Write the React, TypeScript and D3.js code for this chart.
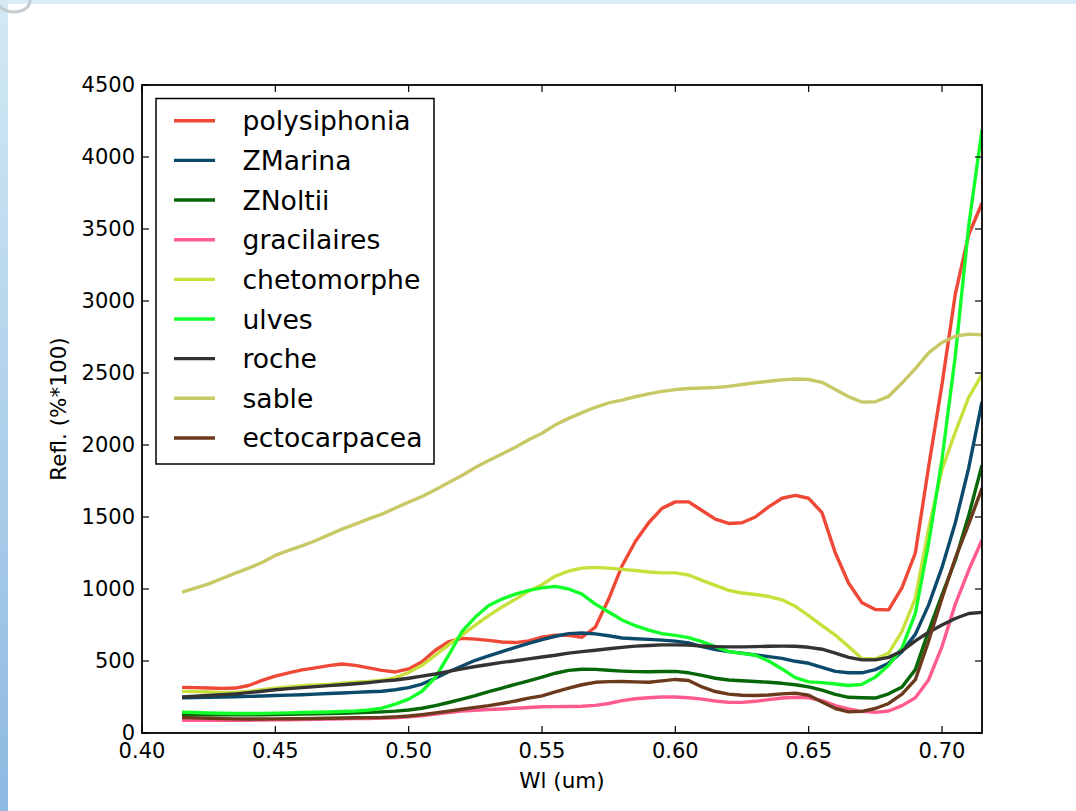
import React from "react";
import * as d3 from "d3";

// wavelength samples (um)
const wavelengths = [
  0.415, 0.42, 0.425, 0.43, 0.435, 0.44, 0.445, 0.45, 0.455, 0.46,
  0.465, 0.47, 0.475, 0.48, 0.485, 0.49, 0.495, 0.5, 0.505, 0.51,
  0.515, 0.52, 0.525, 0.53, 0.535, 0.54, 0.545, 0.55, 0.555, 0.56,
  0.565, 0.57, 0.575, 0.58, 0.585, 0.59, 0.595, 0.6, 0.605, 0.61,
  0.615, 0.62, 0.625, 0.63, 0.635, 0.64, 0.645, 0.65, 0.655, 0.66,
  0.665, 0.67, 0.675, 0.68, 0.685, 0.69, 0.695, 0.7, 0.705, 0.71, 0.715,
];

// reflectance (%*100)
const polysiphonia = [
  317, 315, 313, 310, 312, 330, 365, 395, 418, 438,
  452, 468, 479, 470, 452, 435, 424, 445, 495, 575,
  635, 657, 652, 643, 632, 628, 640, 665, 680, 678,
  665, 735, 930, 1160, 1330, 1460, 1560, 1605, 1605, 1545,
  1485, 1455, 1460, 1500, 1570, 1630, 1650, 1630, 1530, 1250,
  1040, 905, 858, 855, 1010, 1250, 1850, 2420, 3050, 3460, 3680,
];
const zMarina = [
  245, 246, 248, 250, 252, 254, 257, 260, 263, 266,
  270, 274, 278, 282, 286, 290, 300, 315, 340, 380,
  425, 465, 505, 535, 565, 595, 622, 648, 672, 690,
  694, 688, 675, 660, 655, 650, 645, 638, 625, 600,
  580, 565, 555, 542, 530, 518, 498, 484, 455, 428,
  418, 418, 440, 485, 565, 685, 890, 1150, 1460, 1840, 2300,
];
const zNoltii = [
  128, 127, 126, 126, 126, 126, 127, 128, 129, 131,
  133, 135, 137, 140, 143, 147, 152, 160, 172, 190,
  212, 235, 260, 288, 312, 338, 362, 388, 415, 435,
  443, 442, 436, 430, 426, 425, 427, 428, 418, 400,
  380, 368, 363, 358, 352, 345, 335, 320, 298, 268,
  248, 245, 243, 272, 320, 440, 710, 960, 1200, 1510, 1860,
];
const gracilaires = [
  88, 88, 88, 88, 88, 89, 90, 91, 92, 94,
  95, 97, 98, 100, 101, 103, 106, 112, 120, 132,
  142, 152, 158, 163, 167, 172, 177, 182, 183, 184,
  186, 192, 205, 225, 238, 245, 250, 250, 245, 235,
  222, 213, 213, 220, 232, 243, 248, 245, 225, 190,
  168, 150, 143, 153, 190, 245, 370, 600, 895, 1130, 1340,
];
const chetomorphe = [
  289, 288, 285, 282, 282, 289, 300, 312, 320, 328,
  333, 338, 345, 352, 358, 366, 385, 420, 470, 540,
  612, 680, 750, 815, 875, 928, 985, 1030, 1090, 1125,
  1145, 1150, 1145, 1136, 1128, 1118, 1112, 1112, 1097, 1060,
  1025, 990, 972, 962, 948, 925, 880, 815, 745, 680,
  600, 518, 514, 555, 705, 935, 1420, 1830, 2090, 2330, 2490,
];
const ulves = [
  145, 142, 139, 137, 135, 135, 136, 138, 140, 142,
  144, 146, 149, 153, 160, 172, 200, 235, 290, 385,
  540, 705, 805, 885, 930, 965, 990, 1008, 1018, 1000,
  965, 895, 840, 785, 745, 715, 690, 678, 662, 635,
  600, 565, 553, 540, 500, 445, 385, 355, 350, 340,
  330, 338, 388, 470, 590, 830, 1320, 1900, 2620, 3520, 4190,
];
const roche = [
  250, 255, 260, 266, 272, 280, 290, 300, 308, 315,
  322, 329, 335, 342, 350, 360, 368, 380, 395, 410,
  428, 445, 462, 476, 490, 502, 515, 528, 540, 555,
  565, 575, 585, 595, 603, 608, 612, 612, 610, 604,
  600, 598, 598, 600, 602, 603, 602, 595, 582, 555,
  525, 508, 508, 525, 570, 640, 700, 750, 795, 830, 838,
];
const sable = [
  979, 1006, 1036, 1073, 1110, 1145, 1184, 1233, 1268, 1300,
  1335, 1376, 1416, 1451, 1487, 1520, 1562, 1603, 1642, 1689,
  1740, 1788, 1844, 1892, 1937, 1985, 2036, 2082, 2140, 2185,
  2225, 2262, 2292, 2312, 2335, 2355, 2372, 2385, 2392, 2396,
  2399, 2407, 2420, 2432, 2443, 2452, 2458, 2455, 2435, 2385,
  2335, 2298, 2300, 2338, 2430, 2530, 2640, 2712, 2755, 2770, 2765,
];
const ectocarpacea = [
  108, 105, 102, 100, 98, 97, 97, 98, 99, 100,
  101, 102, 104, 106, 107, 108, 112, 118, 128, 140,
  152, 165, 178, 190, 205, 222, 242, 258, 285, 312,
  335, 352, 357, 358, 355, 352, 362, 372, 365, 320,
  288, 270, 262, 260, 264, 272, 277, 262, 215, 170,
  147, 150, 170, 205, 270, 370, 640, 935, 1215, 1450, 1700,
];

const seriesNames = [
  "polysiphonia", "ZMarina", "ZNoltii", "gracilaires", "chetomorphe",
  "ulves", "roche", "sable", "ectocarpacea",
];
const seriesValues = [
  polysiphonia, zMarina, zNoltii, gracilaires, chetomorphe,
  ulves, roche, sable, ectocarpacea,
];
const seriesColors = [
  "#ef4836", "#0b4a6a", "#076607", "#ff5c8d", "#c9df3c",
  "#12ff2a", "#333333", "#c9c867", "#6b3a1c",
];

const xTicks = [0.4, 0.45, 0.5, 0.55, 0.6, 0.65, 0.7];
const yTicks = [0, 500, 1000, 1500, 2000, 2500, 3000, 3500, 4000, 4500];

const FONT = "DejaVu Sans, sans-serif";

export default function App() {
  const width = 1076;
  const height = 811;
  const marginLeft = 142;
  const marginRight = 94;
  const marginTop = 85;
  const marginBottom = 78;
  const plotW = width - marginLeft - marginRight;
  const plotH = height - marginTop - marginBottom;
  const tickLen = 7;

  const x = d3.scaleLinear().domain([0.4, 0.715]).range([marginLeft, width - marginRight]);
  const y = d3.scaleLinear().domain([0, 4500]).range([height - marginBottom, marginTop]);

  const line = d3
    .line<number>()
    .x((_, i) => x(wavelengths[i]))
    .y((d) => y(d));

  // legend layout
  const legX = 156;
  const legY = 98.5;
  const legW = 278;
  const legH = 365.5;
  const rowH = 39.66;

  return (
    <svg
      width={width}
      height={height}
      style={{ position: "absolute", left: 0, top: 0 }}
      fontFamily={FONT}
    >
      <defs>
        <linearGradient id="sideGrad" x1="0" y1="0" x2="0" y2="1">
          <stop offset="0" stopColor="#d3eaf4" />
          <stop offset="1" stopColor="#8eb9e1" />
        </linearGradient>
        <clipPath id="plotClip">
          <rect x={marginLeft} y={marginTop} width={plotW} height={plotH} />
        </clipPath>
      </defs>

      {/* slide background around the figure */}
      <rect x={0} y={0} width={width} height={height} fill="#d8edf5" />
      <rect x={0} y={0} width={8} height={height} fill="url(#sideGrad)" />
      <rect x={8} y={4} width={width - 8} height={height - 4} fill="#ffffff" />
      <ellipse cx={14} cy={1} rx={16} ry={11} fill="none" stroke="#c3cbcf" strokeWidth={3} />

      {/* series */}
      <g clipPath="url(#plotClip)">
        {seriesValues.map((vals, k) => (
          <path
            key={seriesNames[k]}
            d={line(vals) ?? ""}
            fill="none"
            stroke={seriesColors[k]}
            strokeWidth={3.4}
            strokeLinejoin="round"
          />
        ))}
      </g>

      {/* ticks, inside, on all four sides */}
      <g stroke="#000" strokeWidth={1.2}>
        {xTicks.map((t) => (
          <g key={"xt" + t}>
            <line x1={x(t)} x2={x(t)} y1={height - marginBottom} y2={height - marginBottom - tickLen} />
            <line x1={x(t)} x2={x(t)} y1={marginTop} y2={marginTop + tickLen} />
          </g>
        ))}
        {yTicks.map((t) => (
          <g key={"yt" + t}>
            <line x1={marginLeft} x2={marginLeft + tickLen} y1={y(t)} y2={y(t)} />
            <line x1={width - marginRight} x2={width - marginRight - tickLen} y1={y(t)} y2={y(t)} />
          </g>
        ))}
      </g>

      {/* frame */}
      <rect
        x={marginLeft}
        y={marginTop}
        width={plotW}
        height={plotH}
        fill="none"
        stroke="#000"
        strokeWidth={1.8}
      />

      {/* tick labels */}
      <g fontSize={21} fill="#000">
        {xTicks.map((t) => (
          <text key={"xl" + t} x={x(t)} y={height - marginBottom + 24.5} textAnchor="middle">
            {d3.format(".2f")(t)}
          </text>
        ))}
        {yTicks.map((t) => (
          <text key={"yl" + t} x={marginLeft - 7} y={y(t) + 7} textAnchor="end">
            {t}
          </text>
        ))}
      </g>

      {/* axis labels */}
      <text x={marginLeft + plotW / 2} y={788} textAnchor="middle" fontSize={21.5}>
        Wl (um)
      </text>
      <text
        transform={`translate(66,${marginTop + plotH / 2}) rotate(-90)`}
        textAnchor="middle"
        fontSize={21.5}
      >
        Refl. (%*100)
      </text>

      {/* legend */}
      <rect x={legX} y={legY} width={legW} height={legH} fill="#fff" stroke="#000" strokeWidth={1.5} />
      {seriesNames.map((name, k) => {
        const cy = 120.7 + k * rowH;
        return (
          <g key={"leg" + name}>
            <line x1={174} x2={215} y1={cy} y2={cy} stroke={seriesColors[k]} strokeWidth={3.4} />
            <text x={242.5} y={cy + 9.5} fontSize={26.6}>
              {name}
            </text>
          </g>
        );
      })}
    </svg>
  );
}
